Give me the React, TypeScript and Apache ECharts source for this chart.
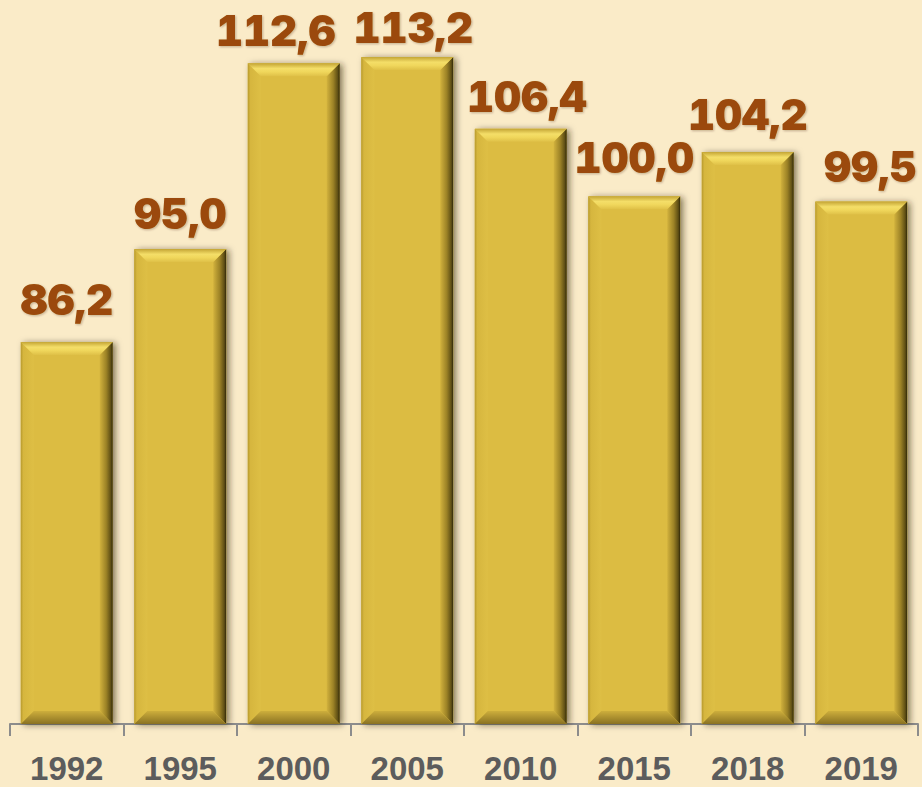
import React, { useEffect, useRef } from "react";
import * as echarts from "echarts";

const years = ["1992", "1995", "2000", "2005", "2010", "2015", "2018", "2019"];
const values = [86.2, 95.0, 112.6, 113.2, 106.4, 100.0, 104.2, 99.5];
const axisMin = 50;
const axisMax = 115;

// hand-placed label nudges seen in the original (px)
const labelNudges: [number, number][] = [
  [0, -7], [0, -1], [-18, 2], [6, 6], [6, 3], [0, -4], [0, -2], [9, 0],
];

export default function App() {
  const ref = useRef<HTMLDivElement>(null);
  useEffect(() => {
    if (!ref.current) return;
    const chart = echarts.init(ref.current, null, { renderer: "svg" });
    const lg = (x1: number, y1: number, x2: number, y2: number, stops: [number, string][]) =>
      new echarts.graphic.LinearGradient(x1, y1, x2, y2, stops.map(([offset, color]) => ({ offset, color })));
    const renderItem = (params: any, api: any) => {
      const idx = api.value(0);
      const val = api.value(1);
      const top = api.coord([idx, val]);
      const base = api.coord([idx, axisMin]);
      const band = api.size([1, 0])[0];
      const w = band * 0.81;
      const x = top[0] - w / 2;
      const y = top[1];
      const h = base[1] - top[1];
      const b = 13;
      return {
        type: "group",
        children: [
          {
            type: "rect",
            shape: { x, y, width: w, height: h },
            style: {
              fill: "#DCBC42",
              shadowBlur: 6,
              shadowOffsetX: 3,
              shadowOffsetY: 1,
              shadowColor: "rgba(40,30,0,0.55)",
            },
          },
          {
            type: "polygon",
            shape: { points: [[x, y], [x + b, y + b], [x + b, y + h - b], [x, y + h]] },
            style: { fill: lg(0, 0, 1, 0, [[0, "#B89A2E"], [0.2, "#D6B63E"], [1, "#DEBF45"]]) },
          },
          {
            type: "polygon",
            shape: { points: [[x + w, y], [x + w, y + h], [x + w - b, y + h - b], [x + w - b, y + b]] },
            style: { fill: lg(0, 0, 1, 0, [[0, "#D2B23D"], [0.5, "#9C8226"], [0.85, "#5E4E14"], [1, "#2E2608"]]) },
          },
          {
            type: "polygon",
            shape: { points: [[x, y + h], [x + b, y + h - b], [x + w - b, y + h - b], [x + w, y + h]] },
            style: { fill: lg(0, 0, 0, 1, [[0, "#CDAE3C"], [1, "#8A7222"]]) },
          },
          {
            type: "polygon",
            shape: { points: [[x, y], [x + w, y], [x + w - b, y + b], [x + b, y + b]] },
            style: { fill: lg(0, 0, 0, 1, [[0, "#C4A535"], [0.4, "#F4DE68"], [0.65, "#F0D75C"], [1, "#DFC047"]]) },
          },
        ],
      };
    };
    chart.setOption({
      animation: false,
      backgroundColor: "#FAEBC8",
      grid: { left: 10, right: 4, top: 38, bottom: 63 },
      xAxis: {
        type: "category",
        data: years,
        axisLine: { lineStyle: { color: "#8C8C8C", width: 2 } },
        axisTick: { show: true, length: 12, lineStyle: { color: "#8C8C8C", width: 2 } },
        axisLabel: {
          fontSize: 33,
          fontWeight: "bold",
          fontFamily: "'Liberation Sans', Arial, sans-serif",
          color: "#5C5C5C",
          margin: 28,
        },
      },
      yAxis: { type: "value", min: axisMin, max: axisMax, show: false },
      series: [
        {
          type: "bar",
          data: values.map((v, i) => ({ value: v, label: { offset: labelNudges[i] } })),
          barWidth: "81%",
          itemStyle: { color: "rgba(0,0,0,0)" },
          silent: true,
          z: 1,
          label: {
            show: true,
            position: "top",
            distance: 14,
            fontSize: 42,
            fontWeight: 900,
            fontFamily: "Inter, 'Liberation Sans', Arial, sans-serif",
            color: "#9B4A08",
            textShadowColor: "rgba(60,30,0,0.3)",
            textShadowBlur: 2,
            textShadowOffsetX: 1,
            textShadowOffsetY: 1,
            formatter: (p: any) => Number(p.value).toFixed(1).replace(".", ","),
          },
        },
        {
          type: "custom",
          data: values.map((v, i) => [i, v]),
          encode: { x: 0, y: 1 },
          renderItem,
          z: 2,
        },
      ],
    });
    return () => chart.dispose();
  }, []);
  return (
    <>
      <style>{`svg text { font-feature-settings: "tnum" 1; font-variant-numeric: tabular-nums; }`}</style>
      <div ref={ref} style={{ position: "absolute", left: 0, top: 0, width: 922, height: 787 }} />
    </>
  );
}
